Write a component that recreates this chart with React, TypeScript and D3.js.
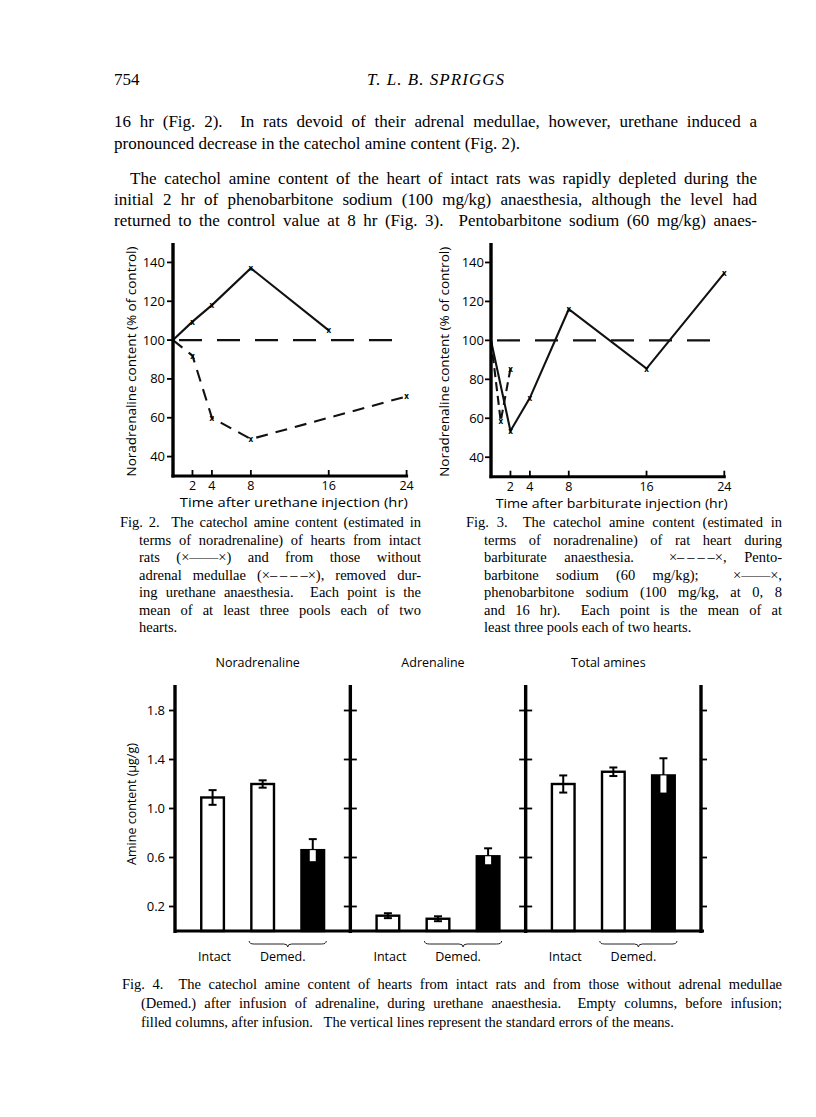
import React, { useLayoutEffect, useRef, useState } from "react";
import * as d3 from "d3";

// ---- Fig. 2 (urethane) ----
const fig2IntactHours = [0, 2, 4, 8, 16];
const fig2Intact = [100, 109.5, 118, 137, 105];
const fig2DemedHours = [0, 2, 4, 8, 24];
const fig2Demed = [100, 92, 60, 49, 71];

// ---- Fig. 3 (barbiturate) ----
const fig3PhenoHours = [0, 2, 4, 8, 16, 24];
const fig3Pheno = [100, 53.5, 70.5, 116, 85.5, 134.5];
const fig3PentoHours = [0, 1, 2];
const fig3Pento = [100, 58.5, 85.5];

const hourTicks = [2, 4, 8, 16, 24];
const pctTicks = [40, 60, 80, 100, 120, 140];

// ---- Fig. 4 (amine content) ----
const amines = ["Noradrenaline", "Adrenaline", "Total amines"];
const columns = ["Intact", "Demed. before", "Demed. after"];
const columnFilled = [false, false, true];
const noradMean = [1.09, 1.2, 0.66];
const noradSE = [0.06, 0.03, 0.09];
const adrMean = [0.125, 0.1, 0.61];
const adrSE = [0.02, 0.02, 0.065];
const totalMean = [1.2, 1.3, 1.27];
const totalSE = [0.07, 0.035, 0.14];
const amineTicks = [0.2, 0.6, 1.0, 1.4, 1.8];

const SERIF = "'Liberation Serif', 'Times New Roman', serif";
const SANS = "'Open Sans', Lato, sans-serif";

// legend symbols used inside the captions (thin spaces are not stretched)
const DASHED = "×–\u2009–\u2009–\u2009–×";
const SOLID = "×——×";

type JL = { x: number; y: number; w?: number; s: string };

// justified line: stretch the word spaces so the line fills w
const Just = ({ x, y, w, s, size, italic }: JL & { size: number; italic?: boolean }) => {
  const ref = useRef<SVGTextElement>(null);
  const [ws, setWs] = useState(0);
  useLayoutEffect(() => {
    if (!w || !ref.current) return;
    const len = ref.current.getComputedTextLength();
    const spaces = (s.match(/ /g) || []).length;
    if (spaces) setWs((w - len) / spaces);
  }, [w, s, size]);
  return (
    <text
      ref={ref}
      x={x}
      y={y}
      fontFamily={SERIF}
      fontSize={size}
      fontStyle={italic ? "italic" : "normal"}
      style={{ whiteSpace: "pre", wordSpacing: `${ws}px` }}
    >
      {s}
    </text>
  );
};

function LineFig({
  x0, x1, y0, y1, solidX, solidY, dashX, dashY, dash, xLabel, xlW, ylX, tlX,
}: {
  x0: number; x1: number; y0: number; y1: number;
  solidX: number[]; solidY: number[]; dashX: number[]; dashY: number[];
  dash: string; xLabel: string; xlW: number; ylX: number; tlX: number;
}) {
  const x = d3.scaleLinear().domain([0, 24]).range([x0, x1]);
  const y = d3.scaleLinear().domain([30, 150]).range([y0, y1]);
  const line = d3.line<[number, number]>().x((d) => x(d[0])).y((d) => y(d[1]));
  const solid = solidX.map((h, i) => [h, solidY[i]] as [number, number]);
  const dashed = dashX.map((h, i) => [h, dashY[i]] as [number, number]);
  const marks = [...solid.slice(1), ...dashed.slice(1)];
  return (
    <g>
      {/* control level */}
      <line x1={x(0)} x2={x(24)} y1={y(100)} y2={y(100)} stroke="#111" strokeWidth={2.2} strokeDasharray="23,15" strokeDashoffset={-6} />
      <path d={line(solid) || ""} fill="none" stroke="#111" strokeWidth={2.1} />
      <path d={line(dashed) || ""} fill="none" stroke="#111" strokeWidth={2.1} strokeDasharray={dash} />
      {marks.map((d, i) => (
        <text key={i} x={x(d[0])} y={y(d[1]) + 3} fontSize={8} fontWeight="bold" fontFamily={SANS} textAnchor="middle">x</text>
      ))}
      {/* axes */}
      <line x1={x0} x2={x0} y1={y0 + 1.5} y2={y1} stroke="#000" strokeWidth={3.4} />
      <line x1={x0 - 1.5} x2={x(24) + 1.5} y1={y0} y2={y0} stroke="#000" strokeWidth={3} />
      {pctTicks.map((t) => (
        <g key={t}>
          <line x1={x0 - 6} x2={x0} y1={y(t)} y2={y(t)} stroke="#000" strokeWidth={1.8} />
          <text x={tlX} y={y(t) + 4.5} fontFamily={SANS} fontSize={13} textAnchor="end">{t}</text>
        </g>
      ))}
      {hourTicks.map((t) => (
        <g key={t}>
          <line x1={x(t)} x2={x(t)} y1={y0} y2={y0 - 6} stroke="#000" strokeWidth={1.8} />
          <text x={x(t)} y={y0 + 14} fontFamily={SANS} fontSize={12.5} textAnchor="middle">{t}</text>
        </g>
      ))}
      <text x={(x0 + x1) / 2 + 4} y={y0 + 31} fontFamily={SANS} fontSize={13} textAnchor="middle" textLength={xlW} lengthAdjust="spacingAndGlyphs">{xLabel}</text>
      <text transform={`translate(${ylX},${(y0 + y1) / 2 + 2}) rotate(-90)`} fontFamily={SANS} fontSize={12.5} textAnchor="middle" textLength={230} lengthAdjust="spacingAndGlyphs">
        Noradrenaline content (% of control)
      </text>
    </g>
  );
}

function BarFig() {
  const means = [noradMean, adrMean, totalMean];
  const ses = [noradSE, adrSE, totalSE];
  const px = d3.scaleBand<string>().domain(amines).range([175, 701]).padding(0);
  const bx = d3.scaleBand<string>().domain(columns).range([0, px.bandwidth()]).paddingInner(0.5).paddingOuter(0.5);
  const y = d3.scaleLinear().domain([0, 2]).range([931, 686]);
  const bw = bx.bandwidth();
  const axisXs = [...amines.map((a) => px(a) as number), 701];
  const brace = (xa: number, xb: number, yy: number) => {
    const m = (xa + xb) / 2;
    return `M${xa},${yy - 3} Q${xa},${yy} ${xa + 5},${yy} L${m - 4},${yy} Q${m},${yy} ${m},${yy + 3} Q${m},${yy} ${m + 4},${yy} L${xb - 5},${yy} Q${xb},${yy} ${xb},${yy - 3}`;
  };
  return (
    <g>
      {amines.map((a, pi) => {
        const ox = px(a) as number;
        return (
          <g key={a}>
            <text x={ox + px.bandwidth() / 2 - 5} y={667} fontFamily={SANS} fontSize={12.5} textAnchor="middle">{a}</text>
            {columns.map((c, ci) => {
              const xl = ox + (bx(c) as number);
              const v = means[pi][ci];
              const se = ses[pi][ci];
              const filled = columnFilled[ci];
              const cx = xl + bw / 2;
              return (
                <g key={c}>
                  <rect x={xl + 1.2} y={y(v)} width={bw - 2.4} height={y(0) - y(v)} fill={filled ? "#000" : "#fff"} stroke="#000" strokeWidth={2.4} />
                  {filled ? (
                    <g>
                      <line x1={cx} x2={cx} y1={y(v + se)} y2={y(v)} stroke="#000" strokeWidth={2} />
                      <line x1={cx - 4} x2={cx + 4} y1={y(v + se)} y2={y(v + se)} stroke="#000" strokeWidth={2} />
                      <rect x={cx - 3} y={y(v)} width={6} height={y(v - se) - y(v)} fill="#fff" />
                    </g>
                  ) : (
                    <g>
                      <line x1={cx} x2={cx} y1={y(v + se)} y2={y(v - se)} stroke="#000" strokeWidth={2} />
                      <line x1={cx - 4} x2={cx + 4} y1={y(v + se)} y2={y(v + se)} stroke="#000" strokeWidth={2} />
                      <line x1={cx - 4} x2={cx + 4} y1={y(v - se)} y2={y(v - se)} stroke="#000" strokeWidth={2} />
                    </g>
                  )}
                </g>
              );
            })}
            <text x={ox + (bx(columns[0]) as number) + bw / 2 + 2} y={961} fontFamily={SANS} fontSize={12.5} textAnchor="middle">Intact</text>
            <path d={brace(ox + (bx(columns[1]) as number) - 1, ox + (bx(columns[2]) as number) + bw + 1, 944)} fill="none" stroke="#222" strokeWidth={1} />
            <text x={ox + ((bx(columns[1]) as number) + (bx(columns[2]) as number) + bw) / 2 - 5} y={961} fontFamily={SANS} fontSize={12.5} textAnchor="middle">Demed.</text>
          </g>
        );
      })}
      {/* baseline and axes */}
      <line x1={175} x2={704} y1={y(0)} y2={y(0)} stroke="#000" strokeWidth={3} />
      {axisXs.map((ax, i) => (
        <g key={i}>
          <line x1={ax} x2={ax} y1={y(0) + 2} y2={685} stroke="#000" strokeWidth={3.4} />
          {amineTicks.map((t) => (
            <line key={t} x1={i === 0 ? ax - 6 : ax - (i === 3 ? 0 : 6.5)} x2={i === 3 ? ax + 6 : i === 0 ? ax : ax + 6.5} y1={y(t)} y2={y(t)} stroke="#000" strokeWidth={1.8} />
          ))}
        </g>
      ))}
      {amineTicks.map((t) => (
        <text key={t} x={165} y={y(t) + 4.5} fontFamily={SANS} fontSize={13} textAnchor="end">{t.toFixed(1)}</text>
      ))}
      <text transform={`translate(136,${804}) rotate(-90)`} fontFamily={SANS} fontSize={12.5} textAnchor="middle">Amine content (μg/g)</text>
    </g>
  );
}

const body: JL[] = [
  { x: 114, y: 127, w: 643, s: "16 hr (Fig. 2).  In rats devoid of their adrenal medullae, however, urethane induced a" },
  { x: 114, y: 149, s: "pronounced decrease in the catechol amine content (Fig. 2)." },
  { x: 130, y: 184, w: 627, s: "The catechol amine content of the heart of intact rats was rapidly depleted during the" },
  { x: 114, y: 205, w: 643, s: "initial 2 hr of phenobarbitone sodium (100 mg/kg) anaesthesia, although the level had" },
  { x: 114, y: 226, w: 643, s: "returned to the control value at 8 hr (Fig. 3).  Pentobarbitone sodium (60 mg/kg) anaes-" },
];

const cap2: JL[] = [
  { x: 120, y: 527, w: 301, s: "Fig. 2.  The catechol amine content (estimated in" },
  { x: 139, y: 544.5, w: 282, s: "terms of noradrenaline) of hearts from intact" },
  { x: 139, y: 562, w: 282, s: `rats (${SOLID}) and from those without` },
  { x: 139, y: 579.5, w: 282, s: `adrenal medullae (${DASHED}), removed dur-` },
  { x: 139, y: 597, w: 282, s: "ing urethane anaesthesia.  Each point is the" },
  { x: 139, y: 614.5, w: 282, s: "mean of at least three pools each of two" },
  { x: 139, y: 632, s: "hearts." },
];

const cap3: JL[] = [
  { x: 466, y: 527, w: 316, s: "Fig. 3.  The catechol amine content (estimated in" },
  { x: 484, y: 544.5, w: 298, s: "terms of noradrenaline) of rat heart during" },
  { x: 484, y: 562, w: 298, s: `barbiturate anaesthesia.  ${DASHED}, Pento-` },
  { x: 484, y: 579.5, w: 298, s: `barbitone sodium (60 mg/kg);  ${SOLID},` },
  { x: 484, y: 597, w: 298, s: "phenobarbitone sodium (100 mg/kg, at 0, 8" },
  { x: 484, y: 614.5, w: 298, s: "and 16 hr).  Each point is the mean of at" },
  { x: 484, y: 632, s: "least three pools each of two hearts." },
];

const cap4: JL[] = [
  { x: 122, y: 989, w: 660, s: "Fig. 4.  The catechol amine content of hearts from intact rats and from those without adrenal medullae" },
  { x: 141, y: 1008, w: 641, s: "(Demed.) after infusion of adrenaline, during urethane anaesthesia.  Empty columns, before infusion;" },
  { x: 141, y: 1027, s: "filled columns, after infusion.   The vertical lines represent the standard errors of the means." },
];

export default function App() {
  return (
    <svg width={816} height={1117} style={{ position: "absolute", left: 0, top: 0, background: "#fff" }}>
      <rect width={816} height={1117} fill="#fff" />
      <text x={114} y={85} fontFamily={SERIF} fontSize={17}>754</text>
      <text x={367} y={85} fontFamily={SERIF} fontSize={17} fontStyle="italic" textLength={137} lengthAdjust="spacing">T. L. B. SPRIGGS</text>
      {body.map((l, i) => <Just key={i} {...l} size={17} />)}

      <LineFig x0={173} x1={406.6} y0={476} y1={243} solidX={fig2IntactHours} solidY={fig2Intact}
        dashX={fig2DemedHours} dashY={fig2Demed} dash="12,8" xLabel="Time after urethane injection (hr)" xlW={228} ylX={136} tlX={165} />
      <LineFig x0={491} x1={724.3} y0={476.7} y1={243} solidX={fig3PhenoHours} solidY={fig3Pheno}
        dashX={fig3PentoHours} dashY={fig3Pento} dash="9,5" xLabel="Time after barbiturate injection (hr)" xlW={232} ylX={449} tlX={484} />

      {cap2.map((l, i) => <Just key={i} {...l} size={14.5} />)}
      {cap3.map((l, i) => <Just key={i} {...l} size={14.5} />)}

      <BarFig />
      {cap4.map((l, i) => <Just key={i} {...l} size={14.5} />)}
    </svg>
  );
}
